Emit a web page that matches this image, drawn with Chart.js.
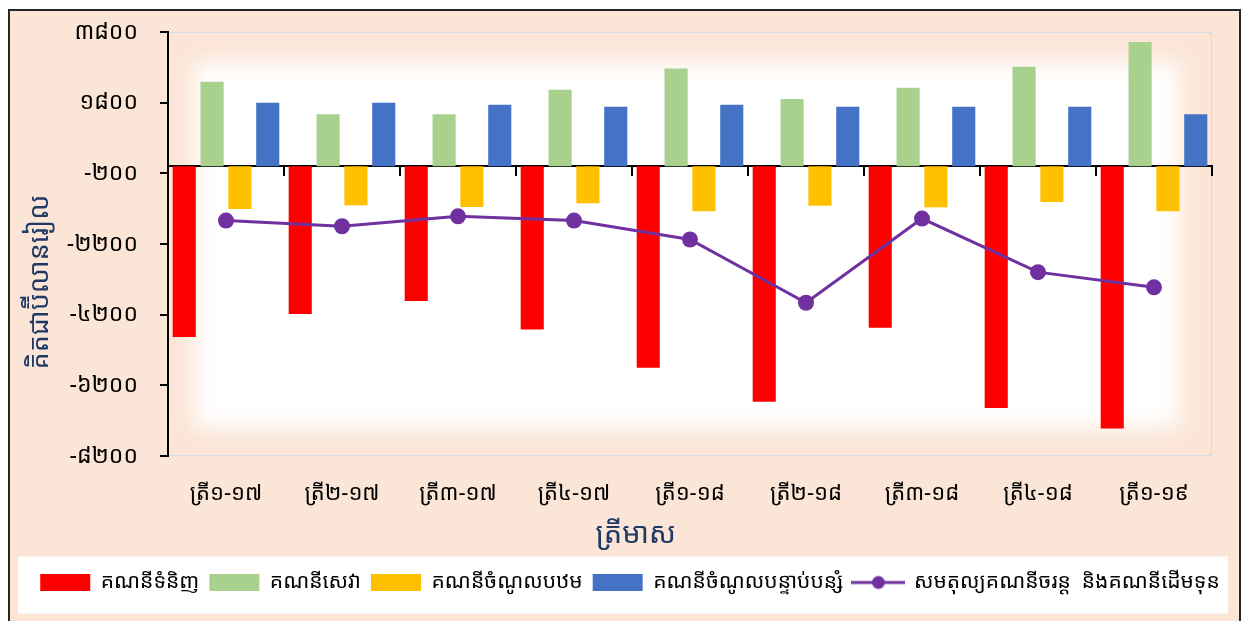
<!DOCTYPE html>
<html><head><meta charset="utf-8">
<script src="https://cdn.jsdelivr.net/npm/chart.js@4/dist/chart.umd.min.js"></script>
<style>
html,body{margin:0;padding:0;background:#fff;width:1241px;height:621px;overflow:hidden}
#frame{position:absolute;left:8px;top:9px;width:1229px;height:620px;background:#FBE5D6;border:2px solid #262626;}
#wrap{position:absolute;left:0;top:0;width:1241px;height:621px}
</style></head><body>
<div id="frame"></div>
<div id="wrap"><canvas id="c" width="1241" height="621"></canvas></div>
<script>
const categories = ['ត្រី១-១៧','ត្រី២-១៧','ត្រី៣-១៧','ត្រី៤-១៧','ត្រី១-១៨','ត្រី២-១៨','ត្រី៣-១៨','ត្រី៤-១៨','ត្រី១-១៩'];
const tradeBalance = [-4829, -4181, -3814, -4623, -5704, -6663, -4567, -6841, -7425];
const servicesBalance = [2392, 1470, 1470, 2166, 2767, 1904, 2223, 2815, 3520];
const primaryIncome = [-1210, -1106, -1153, -1049, -1275, -1115, -1162, -1013, -1275];
const secondaryIncome = [1800, 1800, 1743, 1687, 1743, 1687, 1687, 1687, 1470];
const currentCapitalBalance = [-1537, -1698, -1416, -1537, -2073, -3862, -1481, -2996, -3427];
const yTicks = [-8200, -6200, -4200, -2200, -200, 1800, 3800];
const seriesNames = ['គណនីទំនិញ','គណនីសេវា','គណនីចំណូលបឋម','គណនីចំណូលបន្ទាប់បន្សំ','សមតុល្យគណនីចរន្ត  និងគណនីដើមទុន'];
const xTitle = 'ត្រីមាស';
const yTitle = 'គិតជាប៊ីលានរៀល';

const F = "'Noto Sans Khmer','Khmer OS System','Khmer OS','Noto Sans',sans-serif";
const KD = '០១២៣៤៥៦៧៨៩';
const toKhmer = v => String(v).replace(/[0-9]/g, d => KD[+d]);

const lineIcon = document.createElement('canvas');
lineIcon.width = 54; lineIcon.height = 18;
(() => { const g = lineIcon.getContext('2d');
  g.strokeStyle = '#7030A0'; g.lineWidth = 3; g.beginPath(); g.moveTo(0, 9); g.lineTo(54, 9); g.stroke();
  g.fillStyle = '#7030A0'; g.beginPath(); g.arc(27, 9, 6.5, 0, Math.PI * 2); g.fill(); })();

const LEG_FONT = 21, LEG_PAD = 10;
const decor = {
  id: 'decor',
  beforeDraw(chart) {
    const {ctx, chartArea: a} = chart;
    const lg = chart.legend;
    ctx.save();
    const c = lg.top + LEG_PAD + LEG_FONT / 2;
    ctx.fillStyle = '#fff';
    ctx.fillRect(18, c - 26, 1210, 57);
    ctx.beginPath(); ctx.rect(a.left, a.top, a.width, a.height); ctx.clip();
    ctx.fillStyle = '#FBE5D6';
    ctx.fillRect(a.left, a.top, a.width, a.height);
    ctx.filter = 'blur(11px)';
    ctx.fillStyle = '#fff';
    ctx.fillRect(a.left + 26, a.top + 30, a.width - 58, a.height - 58);
    ctx.filter = 'none';
    ctx.restore();
    ctx.save();
    ctx.strokeStyle = '#D6DCE5'; ctx.lineWidth = 1;
    ctx.strokeRect(a.left + 0.5, a.top + 0.5, a.width - 1, a.height - 1);
    ctx.restore();
  },
  afterDraw(chart) {
    const {ctx, chartArea: a} = chart;
    ctx.save();
    ctx.fillStyle = '#1F3864';
    ctx.textAlign = 'center'; ctx.textBaseline = 'middle';
    ctx.font = '29px ' + F;
    ctx.fillText(xTitle, a.left + a.width * 0.448, a.bottom + 79);
    ctx.translate(40, a.top + a.height * 0.59);
    ctx.rotate(-Math.PI / 2);
    ctx.font = '27px ' + F;
    ctx.fillText(yTitle, 0, 0);
    ctx.restore();
  }
};

new Chart(document.getElementById('c'), {
  data: {
    labels: categories,
    datasets: [
      {type: 'bar', label: seriesNames[0], data: tradeBalance, backgroundColor: '#FF0000', borderWidth: 0, pointStyle: 'rect'},
      {type: 'bar', label: seriesNames[1], data: servicesBalance, backgroundColor: '#A9D18E', borderWidth: 0, pointStyle: 'rect'},
      {type: 'bar', label: seriesNames[2], data: primaryIncome, backgroundColor: '#FFC000', borderWidth: 0, pointStyle: 'rect'},
      {type: 'bar', label: seriesNames[3], data: secondaryIncome, backgroundColor: '#4472C4', borderWidth: 0, pointStyle: 'rect'},
      {type: 'line', label: seriesNames[4], data: currentCapitalBalance, borderColor: '#7030A0', backgroundColor: '#7030A0',
       borderWidth: 3, pointRadius: 8, pointBorderWidth: 0, pointBackgroundColor: '#7030A0', tension: 0, order: -1}
    ]
  },
  options: {
    responsive: false, animation: false, devicePixelRatio: 1,
    layout: {padding: {left: 19, right: 0, top: 32, bottom: 18}},
    datasets: {bar: {categoryPercentage: 0.96, barPercentage: 0.83}},
    scales: {
      x: {
        type: 'category', position: 'bottom', offset: true,
        grid: {display: false, drawTicks: false, offset: true}, border: {display: false},
        ticks: {color: '#000', font: {size: 22, family: F}, padding: 25, maxRotation: 0, autoSkip: false},
        afterFit: s => { s.height = 106; }
      },
      x0: {
        type: 'category', axis: 'x', position: {y: 0}, offset: true,
        grid: {display: true, offset: true, drawOnChartArea: false, drawTicks: true, tickLength: 9, color: '#000', lineWidth: 2},
        border: {display: true, color: '#000', width: 2},
        ticks: {display: false}
      },
      y: {
        type: 'linear', min: -8200, max: 3800,
        afterBuildTicks: s => { s.ticks = yTicks.map(v => ({value: v})); },
        afterFit: s => { s.width = 149; s.paddingTop = 14; s.paddingBottom = 14; },
        ticks: {callback: v => toKhmer(v), color: '#000', font: {size: 23, family: F}, padding: 22},
        grid: {drawOnChartArea: false, drawTicks: true, tickLength: 8, color: '#000', lineWidth: 2},
        border: {display: true, color: '#000', width: 2}
      },
      yR: {
        type: 'linear', position: 'right', display: true,
        ticks: {display: false}, grid: {display: false, drawTicks: false}, border: {display: false},
        afterFit: s => { s.width = 29; s.paddingTop = 0; s.paddingBottom = 0; }
      }
    },
    plugins: {
      tooltip: {enabled: false},
      title: {display: false},
      legend: {
        position: 'bottom',
        labels: {
          usePointStyle: true, pointStyleWidth: 50, boxHeight: 17, padding: LEG_PAD,
          color: '#000', font: {size: LEG_FONT, family: F},
          sort: (a, b) => a.datasetIndex - b.datasetIndex,
          generateLabels: chart => {
            const items = Chart.defaults.plugins.legend.labels.generateLabels(chart);
            items.forEach(it => { if (chart.data.datasets[it.datasetIndex].type === 'line') it.pointStyle = lineIcon; });
            return items;
          }
        }
      }
    }
  },
  plugins: [decor]
});
</script>
</body></html>
